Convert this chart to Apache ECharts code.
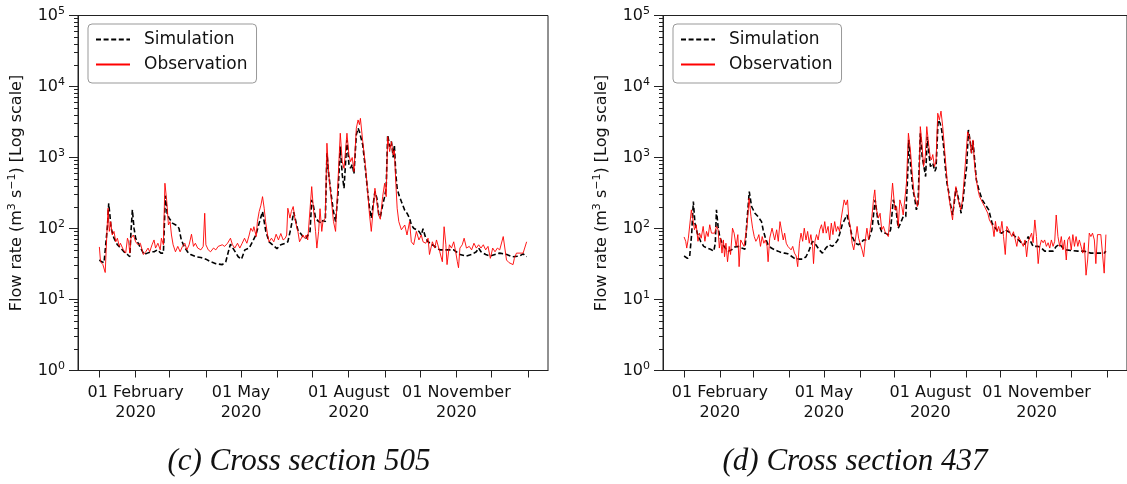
<!DOCTYPE html>
<html><head><meta charset="utf-8">
<script src="https://cdn.jsdelivr.net/npm/echarts@6/dist/echarts.min.js"></script>
<style>html,body{margin:0;padding:0;background:#fff}#chart{width:1127px;height:484px}</style>
</head><body><div id="chart"></div>
<script>
// ---- axis / label data ----
const monthNames = ['January','February','March','April','May','June','July','August','September','October','November','December'];
const tickMonthIdx = [0,1,2,3,4,5,6,7,8,9,10,11,12];
const labelMonthIdx = [1,4,7,10];
const seriesNames = ['Simulation','Observation'];
const panelTitles = ['(c) Cross section 505','(d) Cross section 437'];

// ---- data: day offset from 01 Jan 2020, flow rate (m3/s) ----
const simCDays = [0,2,4,5,7,8,9,10,12.5,15.4,18.2,21,24,26,27,28.2,29.6,31,32.5,35.3,38.2,41,43.9,46.8,49.6,52.5,54.7,56.4,58,59.6,62.4,65.3,68,70,72.4,75.3,78,82.4,86.7,91,95.2,99.5,105,108,111,112,115,118.6,121.4,124.3,128,130.8,133.7,136.5,139.4,142.2,145,148,151.7,155,159,161,163.6,166,169.6,171,173.9,176.7,180,181.4,182.8,184.7,187.3,190,191,193,194.4,196,198,200,201.8,203.8,205.8,207.5,209,211.5,213.2,214.6,216,217.5,219.5,221,222.2,223,225,227.2,229.2,230.8,232.3,233.6,235.4,237,238.6,240,242,243.7,245,246.3,248,249.5,251,252,253.3,254.4,255.8,258,260.9,262.8,265,266.5,268.5,270.8,273,275,276.5,278.8,280.8,282,284.5,286.5,288,290.8,293,294.5,299,302.7,304.4,308,313.6,318,322,324,326,330,334,338,342,348,353,359,362,365];
const simCVals = [36,34,33,34,112,227,155,101,73,59,53,47,43,40,90,183,101,73,65,53,43,45,47,47,50,45,45,290,160,140,119,112,101,69,56,47,43,40,39,37,34,32,31,34,53,60,50,40,37,50,53,65,81,119,173,91,65,59,52,59,62,65,101,170,95,91,77,73,91,253,210,140,125,119,130,125,1148,569,300,173,125,300,1422,569,369,1767,800,706,800,590,2080,2584,2300,2200,1500,706,331,193,140,135,331,270,160,145,213,281,369,2080,1422,1675,1000,1500,569,369,300,240,180,164,140,112,101,96,91,81,99,73,65,62,59,56,53,50,50,53,50,50,47,43,41,43,47,53,47,43,41,43,45,43,40,41,44,40];

const obsCDays = [0,1,3,5,6,7.4,8.5,9.7,11,12.5,14,15.4,17,18,20.5,22.5,24,25,26,27,29,31,33,35,37.6,39.6,41.6,43,45,46.7,48,50,52,53,54.7,56,57.6,59,60.4,61.6,63,65,67,69,71,73,74.7,76.7,78.7,80.4,82,84,86.7,88.7,90,91,93,95,97.5,99.5,101.5,103,105,107,109.5,112,113.7,115.7,118,120,122,124,126,128,129.4,131,132,134,135,136.5,138,139.4,140.8,142,143.7,145,147,149,151,153,155,157,158.8,160,161,162.8,164,165.6,167,168.8,169.6,171,173.9,175.3,176.7,178,181.4,182.8,184.7,185.8,187.3,188.5,190,191,193,194.4,196,198,200,201.8,205.8,207.5,209,211.5,213.2,214.6,216,217.5,219.5,221,222.2,223,225,227.2,229.2,230.8,232.3,233.6,235.4,237,238.6,240,242,243.7,245,246.3,248,249.5,251,252,253.3,254.4,255.8,258,260.9,262.8,265,266.5,268.5,270.8,273,275,276.5,278.8,280.8,282,284.5,286.5,288,290.8,293,294.5,296,297,299,300.8,302.7,304.4,305.8,306.8,308,310,311.6,313.6,316,318,320,322,324,326,328,330,332,334,336,338,340,342,345,347.8,350,353.4,354.5,356.3,362,363.5,365];
const obsCVals = [55,34,31,24,59,193,91,125,81,91,65,73,56,62,50,45,73,65,45,73,81,65,59,62,43,47,53,47,59,69,53,62,50,73,59,434,240,112,125,81,59,47,56,47,56,62,50,59,83,56,62,53,50,56,164,59,50,47,53,50,56,53,59,56,62,73,59,53,62,53,62,73,62,81,101,91,106,77,125,173,213,281,193,125,81,65,73,65,83,69,85,69,73,81,193,140,173,204,140,101,91,65,81,73,81,69,389,193,91,53,91,190,91,125,140,1589,569,272,125,91,2197,875,704,2197,1087,875,1000,633,2584,3380,2900,3560,1675,800,331,155,91,88,369,240,155,135,281,434,281,1968,1210,1675,1087,1260,420,193,125,96,112,81,125,65,59,91,69,81,65,62,73,43,65,53,69,47,34,106,59,31,59,53,65,47,34,28,53,59,73,53,56,50,62,53,59,53,59,50,56,38,53,47,53,50,77,36,33,31,38,45,45,45,65];

const simDDays = [0,2.9,4.8,6.6,8,9.4,11.4,14.3,17,20,22.8,25.7,27,28,29.4,30.8,32.8,35.6,38.5,41,44,47,50,52.7,54.7,56.4,58.4,61.3,64,67,68.4,70.4,72.7,75.5,78.4,81.2,84,87,89.8,92.6,95.5,99.8,102.6,105.5,108.3,111,114,117,119.7,122.6,125.4,128.3,131,133,134.8,136.8,138.8,141,143.4,145.4,148.2,151,155.4,159.6,162.5,165.3,168,171,174,176.7,178.7,181,183,185.3,187.3,189.6,191.8,193.3,194.4,196.1,198,199.5,201,202.4,204.4,206,207.5,209,210.4,211.8,213.2,215.2,217,218,219.8,221.5,222.9,224.6,226,227.5,228.9,230.6,232.3,233.7,235.2,236.6,238,239.7,241.4,243.1,244.5,246,247.4,248.8,250,251.4,252.9,255.1,258,260.8,263.6,266.5,269.4,272.2,275,277.9,280.7,283.6,286.4,289.3,292,295,297.8,299.2,302,306.4,309.2,312,315,319.3,322,325,327.8,330.7,335,340.7,346.3,352,357.7,363.5,365];
const simDVals = [41,38,40,86,240,119,86,66,56,53,51,48,62,183,107,77,62,53,48,50,55,56,53,51,147,330,204,164,147,125,96,73,59,53,50,48,46,45,44,41,38,37,37,40,50,66,59,50,45,53,59,56,62,69,86,113,132,155,107,77,62,59,69,69,96,253,120,90,86,82,96,253,204,101,119,147,147,484,1768,745,350,270,183,225,2197,1030,745,540,1960,1148,745,830,640,700,3380,3050,2443,1422,745,433,330,215,155,225,370,350,240,164,253,484,745,2443,1768,1148,1700,925,484,350,253,215,183,119,101,90,86,96,90,86,77,69,63,60,77,69,56,56,53,48,48,48,56,60,53,50,49,48,48,45,45,45,48];

const obsDDays = [0,1.4,2.3,3.7,5.1,6.3,7.7,9,10.5,12,13.4,14.8,16.5,18,19.4,20.8,22.2,23.7,25,26.5,28,29.4,30.5,31.6,32.8,34,35,36.2,37.6,39,40.2,41.9,43.3,45,46.5,47.6,49,50.5,51.9,53.3,54.7,56.2,57.9,59.3,60.7,62.1,63.6,64.7,66.1,67.6,69,70.4,71.8,72.7,74.1,76.1,77.3,78.4,80.1,81.5,83,84.4,85.8,87,88.4,89.8,91.2,92.6,94,95.5,97,98.3,99.8,101.2,102.6,104,105.5,106.9,108.3,109.7,111.2,112,113.2,114.6,116,117.4,118.9,120.3,121.7,123,124.6,126,127.4,128.8,130.3,131.7,133,134.5,136,137.4,138.5,140,141.4,142.5,144,145.4,146.8,148.2,149.7,151,152.5,154,155.4,156.8,158.2,159.6,161,162.5,164,165,166.2,168.2,169.6,171,172.5,173.9,175.3,176.7,178.1,180.4,182.4,183.9,185.3,186.7,188.4,189.6,191,192.4,194.1,195.8,197.6,199,200.4,201.8,203,204.4,205.8,207.2,208.7,210,211.5,212.9,214,215.2,216.6,218,219.5,220.9,222.3,223.8,225.2,226.6,228,229.5,230.9,232.3,233.7,235.2,236.6,238,239.4,240.9,242.3,243.7,245.4,247,248.6,250,251.4,252.9,254.3,255.7,257.1,258.6,260,261.4,262.8,264.2,265.7,267,268.2,269.4,270.8,272.2,273.6,275,276.4,277.9,279.3,280.7,282.1,283.6,285,286.4,287.9,289.3,290.7,292.1,293.5,295,296.4,297.8,299.2,300.7,302,303.5,304.9,306.4,307.8,309.2,310.7,312,313.5,315,316.4,317.8,319.3,320.7,322,323.5,325,326.4,327.8,329.2,330.7,332,333.5,335,336.4,337.8,339.2,340.7,342,343.5,345,346.3,347.8,349.2,350.6,352,353.4,355,356.3,357.7,359.2,360.6,362,363.5,365];
const obsDVals = [76,66,53,73,69,183,173,96,113,66,86,73,107,66,91,77,113,86,91,86,107,96,53,73,45,69,40,62,34,56,43,101,86,56,82,29,69,66,56,53,119,265,147,101,77,66,73,82,56,77,62,69,56,34,73,101,107,69,96,66,125,125,69,86,62,56,59,50,56,45,41,29,62,86,66,101,69,91,62,82,56,32,66,82,69,96,113,86,125,86,107,69,119,82,125,91,107,91,140,147,253,214,253,140,101,62,50,69,107,73,77,50,40,69,101,69,96,147,265,350,193,140,164,96,107,90,86,77,73,436,183,204,107,253,204,155,164,434,2197,1280,540,314,253,204,253,2722,1590,745,1030,2722,1590,1030,925,1100,745,880,4200,3380,4500,2722,1422,745,410,253,183,132,253,389,280,225,183,253,484,460,2300,1960,1148,1768,745,484,350,280,253,225,204,183,164,132,119,107,77,126,90,107,86,126,77,43,107,113,86,77,90,86,56,77,73,63,56,69,40,66,69,86,63,132,77,32,56,69,63,69,56,63,53,69,56,66,155,77,56,77,50,69,36,69,77,50,82,56,77,56,69,56,45,63,22,36,86,77,86,69,32,82,77,82,45,23.5,82];

// ---- helpers ----
const DAY = 86400000;
const START = Date.UTC(2020, 0, 1);
const toPairs = (days, vals) => days.map((d, i) => [START + d * DAY, vals[i]]);
const X_MIN = START - 18.25 * DAY;
const X_MAX = START + 365 * DAY + 18.25 * DAY;
const tickValues = tickMonthIdx.map(m => Date.UTC(2020, m, 1));
const labelValues = labelMonthIdx.map(m => Date.UTC(2020, m, 1));

const FONT = 'DejaVu Sans';
const AX = '#222';
const supRich = {
  b: { fontFamily: FONT, fontSize: 16, color: '#111', lineHeight: 20 },
  s: { fontFamily: FONT, fontSize: 11, color: '#111', lineHeight: 20, verticalAlign: 'top', padding: [0, 0, 6, 0] }
};

function xAxisFor(gi) {
  return {
    type: 'value', gridIndex: gi, min: X_MIN, max: X_MAX,
    axisLine: { show: true, lineStyle: { color: AX, width: 1 } },
    axisTick: { show: true, length: 7, customValues: tickValues, lineStyle: { color: AX, width: 1 } },
    axisLabel: {
      show: true, customValues: labelValues, margin: 12,
      fontFamily: FONT, fontSize: 16, color: '#111', lineHeight: 20,
      formatter: v => '01 ' + monthNames[new Date(v).getUTCMonth()] + '\n' + new Date(v).getUTCFullYear()
    },
    splitLine: { show: false }
  };
}
function yAxisFor(gi) {
  return {
    type: 'log', logBase: 10, gridIndex: gi, min: 1, max: 100000, splitNumber: 5,
    name: '{b|Flow rate (m}{s|3}{b| s}{s|\u22121}{b|) [Log scale]}',
    nameLocation: 'middle', nameGap: 51,
    nameTextStyle: { rich: supRich },
    axisLine: { show: true, lineStyle: { color: AX, width: 1 } },
    axisTick: { show: true, length: 9, lineStyle: { color: AX, width: 1 } },
    minorTick: { show: true, splitNumber: 9, length: 4, lineStyle: { color: AX, width: 1 } },
    axisLabel: {
      margin: 13,
      formatter: v => '{b|10}{s|' + Math.round(Math.log10(v)) + '}',
      rich: supRich
    },
    splitLine: { show: false }
  };
}
function legendFor(left) {
  return {
    left: left, top: 24, orient: 'vertical',
    data: seriesNames,
    padding: [7, 9, 10, 7], itemGap: 8, itemWidth: 34, itemHeight: 16,
    borderColor: '#999', borderWidth: 1, borderRadius: 4, backgroundColor: '#fff',
    itemStyle: { opacity: 0 },
    textStyle: { fontFamily: FONT, fontSize: 17, color: '#111', padding: [0, 0, 0, 9] },
    selectedMode: false
  };
}
function seriesFor(gi, simD, simV, obsD, obsV) {
  return [
    { name: seriesNames[0], type: 'line', xAxisIndex: gi, yAxisIndex: gi, data: toPairs(simD, simV),
      symbol: 'none', lineStyle: { color: '#000', width: 1.6, type: [5, 2.6] }, itemStyle: { color: '#000' }, z: 2 },
    { name: seriesNames[1], type: 'line', xAxisIndex: gi, yAxisIndex: gi, data: toPairs(obsD, obsV),
      symbol: 'none', lineStyle: { color: '#ff0000', width: 0.9 }, itemStyle: { color: '#ff0000' }, z: 3 }
  ];
}

const chart = echarts.init(document.getElementById('chart'), null, { renderer: 'canvas' });
chart.setOption({
  animation: false,
  backgroundColor: '#fff',
  grid: [
    { left: 78, top: 15.5, width: 470, height: 355, containLabel: false, show: true, borderColor: AX, borderWidth: 1, backgroundColor: 'transparent' },
    { left: 663, top: 15.5, width: 470, height: 355, containLabel: false, show: true, borderColor: AX, borderWidth: 1, backgroundColor: 'transparent' }
  ],
  xAxis: [xAxisFor(0), xAxisFor(1)],
  yAxis: [yAxisFor(0), yAxisFor(1)],
  legend: [legendFor(88), legendFor(673)],
  series: [].concat(seriesFor(0, simCDays, simCVals, obsCDays, obsCVals), seriesFor(1, simDDays, simDVals, obsDDays, obsDVals)),
  graphic: [
    { type: 'text', x: 299, y: 462, style: { text: panelTitles[0], font: 'italic 31px "Liberation Serif"', fill: '#111', textAlign: 'center', textVerticalAlign: 'middle' } },
    { type: 'text', x: 855, y: 462, style: { text: panelTitles[1], font: 'italic 31px "Liberation Serif"', fill: '#111', textAlign: 'center', textVerticalAlign: 'middle' } }
  ]
});
</script></body></html>
